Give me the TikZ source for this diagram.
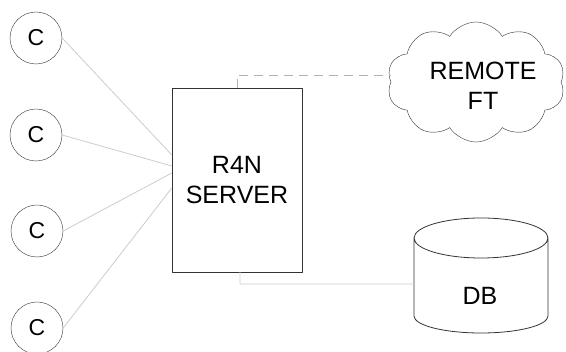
\documentclass[tikz,border=0pt]{standalone}
\usepackage{fontspec}
\setmainfont{Liberation Sans}
\usetikzlibrary{shapes.symbols}
\tikzset{
	client/.style={circle,draw=black!80,fill=white,minimum size=52pt,inner sep=0pt,font=\fontsize{23}{26}\selectfont},
	srvbox/.style={rectangle,draw=black!80,fill=white,minimum width=130pt,minimum height=184pt,align=center,font=\fontsize{25}{30}\selectfont},
	ftcloud/.style={cloud,cloud puffs=10,cloud puff arc=115,aspect=1.5,draw=black!80,fill=white,minimum width=178pt,minimum height=120pt,inner sep=0pt},
	outline/.style={draw=black!80,line width=0.8pt},
	link/.style={draw=black!20,line width=0.8pt},
	dlink/.style={draw=black!30,line width=0.8pt,dash pattern=on 9pt off 6pt}
}
\begin{document}
\begin{tikzpicture}[x=1pt,y=-1pt,line join=round,font=\fontsize{25}{30}\selectfont]
	\useasboundingbox (0,0) rectangle (566,352);
	% clients
	\node[client] (c1) at (36,38) {C};
	\node[client] (c2) at (36,135) {C};
	\node[client] (c3) at (37,231) {C};
	\node[client] (c4) at (37,328) {C};
	% server, remote ft
	\node[srvbox] (srv) at (237,180) {R4N\\SERVER};
	\node[ftcloud] (ft) at (476,82) {};
	\node[align=center] (ftlabel) at (483,86) {REMOTE\\FT};
	% db cylinder
	\draw[outline,fill=white]
	(414,238) -- (414,316) arc[start angle=180,end angle=0,x radius=67,y radius=17] -- (548,238)
	(481,238) ellipse[x radius=67,y radius=20]
	;
	\node (db) at (480,296) {DB};
	\coordinate (dbin) at (414,284);
	% links
	\draw[link]
	(c1.east) -- ([yshift=25pt]srv.west)
	(c2.east) -- ([yshift=14pt]srv.west)
	(c3.east) -- ([yshift=7pt]srv.west)
	(c4.east) -- ([yshift=-8pt]srv.west)
	([xshift=3pt]srv.south) |- (dbin)
	;
	\draw[dlink] (srv.north) |- ([yshift=7pt]ft.west);
\end{tikzpicture}
\end{document}
